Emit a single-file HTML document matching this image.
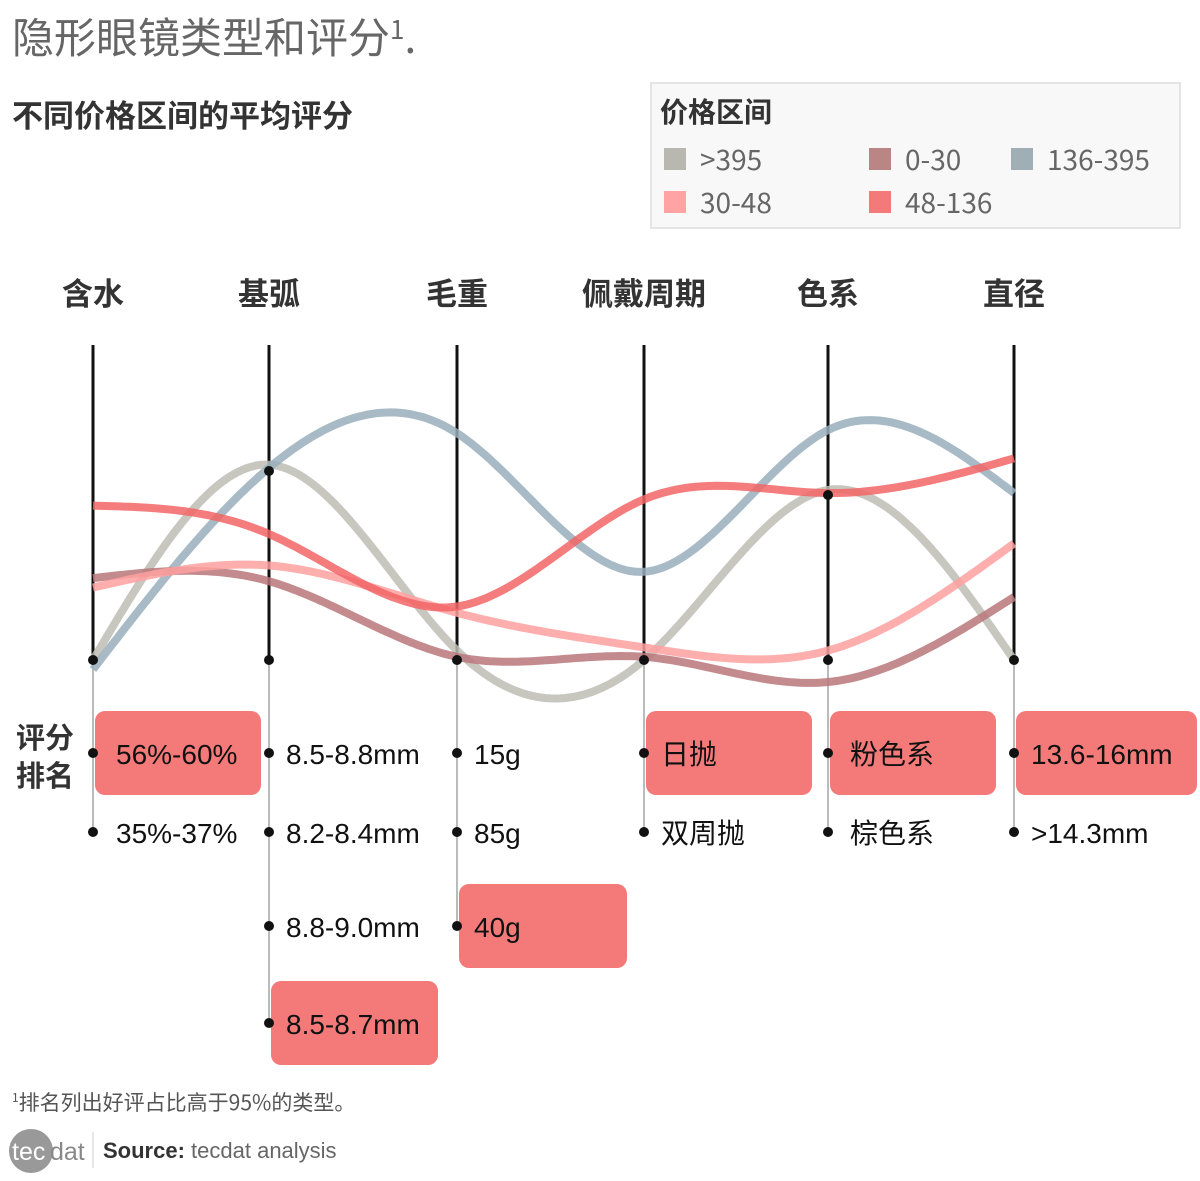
<!DOCTYPE html>
<html><head><meta charset="utf-8">
<style>
body{margin:0;width:1200px;height:1181px;background:#fff;overflow:hidden;font-family:"Liberation Sans","Noto Sans CJK SC",sans-serif;}
svg{position:absolute;left:0;top:0}
</style></head>
<body>
<svg id="chart" width="1200" height="1181" xmlns="http://www.w3.org/2000/svg">
<text x="12" y="53" font-family="Noto Sans CJK SC, sans-serif" font-size="42" fill="#666">隐形眼镜类型和评分<tspan font-size="26" dy="-14">1</tspan><tspan dy="14">.</tspan></text>
<text x="12" y="127" font-family="Noto Sans CJK SC, sans-serif" font-size="31" font-weight="bold" fill="#333">不同价格区间的平均评分</text>
<g>
<rect x="651" y="83" width="529" height="145" fill="#f8f8f8" stroke="#e5e5e5" stroke-width="2"/>
<text x="660" y="122" font-family="Noto Sans CJK SC, sans-serif" font-size="28" font-weight="bold" fill="#333">价格区间</text>
<g id="legendItems"></g>
</g>
<g id="axes"></g>
<g id="lines"></g>
<g id="ranks"></g>
<text x="16" y="748" font-family="Noto Sans CJK SC, sans-serif" font-size="29" font-weight="bold" fill="#333">评分</text>
<text x="16" y="786" font-family="Noto Sans CJK SC, sans-serif" font-size="29" font-weight="bold" fill="#333">排名</text>
<text x="12" y="1110" font-family="Noto Sans CJK SC, sans-serif" font-size="21" fill="#555"><tspan font-size="12" dy="-8">1</tspan><tspan dy="8">排名列出好评占比高于95%的类型。</tspan></text>
<g>
<circle cx="31" cy="1151" r="22" fill="#999"/>
<text x="12" y="1160" font-size="25" fill="#fff">tec</text>
<text x="50" y="1160" font-size="25" fill="#888">dat</text>
<line x1="93" y1="1132" x2="93" y2="1168" stroke="#ddd" stroke-width="1.5"/>
</g>
<text x="103" y="1158" font-size="22" fill="#333"><tspan font-weight="bold">Source:</tspan><tspan fill="#666"> tecdat analysis</tspan></text>
</svg>
<script>
const categories=["含水","基弧","毛重","佩戴周期","色系","直径"];
const seriesNames=[">395","136-395","0-30","30-48","48-136"];
const seriesColors=["#bdbdb5","#98aebb","#b8777a","#ffa0a0","#f26565"];
const valsGt395=[0,62,3,0,54,0];
const vals136_395=[-3,61,72,28,73,53];
const vals0_30=[26,25,1,1,-7,20];
const vals30_48=[23,30,15,4,3,37];
const vals48_136=[49,40,17,51,53,64];
const rankLabels=[["56%-60%","35%-37%"],["8.5-8.8mm","8.2-8.4mm","8.8-9.0mm","8.5-8.7mm"],["15g","85g","40g"],["日抛","双周抛"],["粉色系","棕色系"],["13.6-16mm",">14.3mm"]];
const highlighted=[[0],[3],[2],[0],[0],[0]];
const NS="http://www.w3.org/2000/svg";
const axisX=[93,269,457,644,828,1014];
const xScale=i=>axisX[i];
const yScale=v=>660-v*3.15;
const rowY=[753,832,926,1023];
function mk(t,a,p){const e=document.createElementNS(NS,t);for(const k in a)e.setAttribute(k,a[k]);p.appendChild(e);return e;}
// legend
const lg=document.getElementById('legendItems');
const legOrder=[[0,664,160],[2,869,160],[1,1011,160],[3,664,203],[4,869,203]];
const legCol=["#b8b8b0","#a0aeb6","#b98585","#ffa3a3","#f47a7a"];
legOrder.forEach(([s,x,y])=>{
 const g=mk('g',{},lg);
 
 
 mk('rect',{x:x,y:y-12,width:22,height:22,fill:legCol[s]},g);
 const t=mk('text',{x:x+36,y:y+10,'font-family':'Noto Sans CJK SC, sans-serif','font-size':28,fill:'#666'},g);t.textContent=seriesNames[s];
});
// axes
const ax=document.getElementById('axes');
categories.forEach((c,i)=>{
 const x=xScale(i);
 const n=rankLabels[i].length;
 const gl=mk('line',{x1:x,y1:660,x2:x,y2:rowY[n-1],stroke:'#bbb','stroke-width':2},ax);
 
 
 const l=mk('line',{x1:x,y1:345,x2:x,y2:660,stroke:'#111','stroke-width':3},ax);
 
 
 const t=mk('text',{x:x,y:305,'text-anchor':'middle','font-family':'Noto Sans CJK SC, sans-serif','font-size':31,'font-weight':'bold',fill:'#333'},ax);
 t.textContent=c;
 
 
});
// natural cubic spline
function spline(xs,ys){
 const n=xs.length,h=[],al=[],l=[1],mu=[0],z=[0],c=new Array(n).fill(0),b=[],d=[];
 for(let i=0;i<n-1;i++)h[i]=xs[i+1]-xs[i];
 for(let i=1;i<n-1;i++)al[i]=3/h[i]*(ys[i+1]-ys[i])-3/h[i-1]*(ys[i]-ys[i-1]);
 for(let i=1;i<n-1;i++){l[i]=2*(xs[i+1]-xs[i-1])-h[i-1]*mu[i-1];mu[i]=h[i]/l[i];z[i]=(al[i]-h[i-1]*z[i-1])/l[i];}
 l[n-1]=1;z[n-1]=0;
 for(let j=n-2;j>=0;j--){c[j]=z[j]-mu[j]*c[j+1];b[j]=(ys[j+1]-ys[j])/h[j]-h[j]*(c[j+1]+2*c[j])/3;d[j]=(c[j+1]-c[j])/(3*h[j]);}
 let p='';
 for(let j=0;j<n-1;j++)for(let k=0;k<=40;k++){const dx=h[j]*k/40;const y=ys[j]+b[j]*dx+c[j]*dx*dx+d[j]*dx*dx*dx;p+=(p?'L':'M')+(xs[j]+dx).toFixed(1)+','+y.toFixed(1);}
 return p;
}
const allSeries=[valsGt395,vals136_395,vals0_30,vals30_48,vals48_136];
const lg2=document.getElementById('lines');
allSeries.forEach((vals,s)=>{
 const xs=vals.map((v,i)=>xScale(i)),ys=vals.map(v=>yScale(v));
 const p=mk('path',{d:spline(xs,ys),fill:'none',stroke:seriesColors[s],'stroke-width':8,'stroke-opacity':0.85,'stroke-linecap':'butt'},lg2);
 
 
});
// axis bottom dots
categories.forEach((c,i)=>{
 const d=mk('circle',{cx:xScale(i),cy:660,r:5,fill:'#111'},lg2);
 
 
});
[[1,471],[4,495]].forEach(([i,y])=>{
 const d=mk('circle',{cx:xScale(i),cy:y,r:5,fill:'#111'},lg2);
 
 
});
// ranks
const rk=document.getElementById('ranks');
const boxW=[166,167,168,166,166,181];
rankLabels.forEach((labs,i)=>{
 const x=xScale(i);
 labs.forEach((lab,r)=>{
  const y=rowY[r];
  if(highlighted[i].includes(r)){
   const b=mk('rect',{x:x+2,y:y-42,width:boxW[i],height:84,rx:10,fill:'#f47a7a'},rk);
   
   
  }
  const d=mk('circle',{cx:x,cy:y,r:5,fill:'#111'},rk);
  
  
  const t=mk('text',{x:x+(i==4?22:(i==0?23:17)),y:y+11,'font-family':'Liberation Sans, Noto Sans CJK SC, sans-serif','font-size':28,fill:'#111'},rk);
  t.textContent=lab;
  
  
 });
});
</script>
</body></html>
